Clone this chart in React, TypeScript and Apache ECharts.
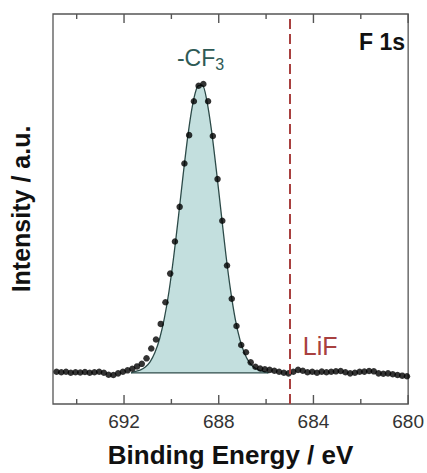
import React, { useEffect, useRef } from "react";
import * as echarts from "echarts";

// Measured XPS F 1s spectrum (binding energy in eV, intensity in a.u.)
const energies = [
  694.85, 694.65, 694.45, 694.25, 694.05, 693.85, 693.65, 693.45, 693.25, 693.05,
  692.85, 692.65, 692.45, 692.25, 692.05, 691.85, 691.65, 691.45, 691.25, 691.05,
  690.85, 690.65, 690.45, 690.25, 690.05, 689.85, 689.65, 689.45, 689.25, 689.05,
  688.85, 688.65, 688.45, 688.25, 688.05, 687.85, 687.65, 687.45, 687.25, 687.05,
  686.85, 686.65, 686.45, 686.25, 686.05, 685.85, 685.65, 685.45, 685.25, 685.05,
  684.85, 684.65, 684.45, 684.25, 684.05, 683.85, 683.65, 683.45, 683.25, 683.05,
  682.85, 682.65, 682.45, 682.25, 682.05, 681.85, 681.65, 681.45, 681.25, 681.05,
  680.85, 680.65, 680.45, 680.25, 680.05,
];
const intensities = [
  0.35, 0.2, 0.35, 0.0, 0.2, 0.1, 0.25, 0.0, 0.2, 0.35,
  0.0, -0.7, -0.75, -0.2, 0.35, 0.85, 1.4, 2.2, 3.1, 5.0,
  8.4, 11.5, 16.9, 24.4, 34.3, 45.4, 57.4, 72.4, 82.2, 93.9,
  99.3, 99.9, 93.9, 81.9, 67.0, 52.6, 37.1, 25.6, 16.2, 9.6,
  7.1, 3.6, 2.1, 1.5, 1.2, 1.0, 0.7, 0.35, 0.0, -0.2,
  0.35, 1.0, 0.7, 0.2, 0.35, 0.0, 0.4, 0.2, 0.35, 0.5,
  0.6, 0.2, -0.2, 0.0, 0.35, 0.4, 0.6, 0.5, -0.2, -0.35,
  -0.2, -0.5, -0.75, -1.0, -1.2,
];

// Fitted -CF3 component
const fitEnergies = [
  691.7, 691.5, 691.3, 691.1, 690.9, 690.7, 690.5, 690.3, 690.1, 689.9,
  689.7, 689.5, 689.3, 689.1, 688.9, 688.7, 688.5, 688.3, 688.1, 687.9,
  687.7, 687.5, 687.3, 687.1, 686.9, 686.7, 686.5, 686.3, 686.1, 685.9,
];
const fitIntensities = [
  0.0, 0.5, 1.0, 2.0, 3.8, 6.9, 11.7, 18.7, 28.2, 40.3,
  54.1, 68.7, 82.2, 92.8, 99.0, 99.5, 94.0, 83.5, 70.0, 55.5,
  41.0, 28.5, 18.5, 11.3, 6.5, 3.5, 1.8, 0.9, 0.4, 0.0,
];
const peakEnergy = 688.78;
const lifEnergy = 685;

const majorTicks = [680, 684, 688, 692];
const minorTicks = [682, 686, 690, 694];
const majorTickStep = 4;
const xMin = 680;
const xMax = 695;
const yMin = -10.8;
const yMax = 124.1;

const FONT = "'Liberation Sans', Arial, Helvetica, sans-serif";
const FRAME = "#555";

// One custom series per edge and tick size; each item draws a single filled rect.
function tickSeries(values: number[], edge: "bottom" | "top", len: number) {
  const yEdge = edge === "bottom" ? yMin : yMax;
  return {
    type: "custom",
    clip: false,
    data: values.map((v) => [v, yEdge]),
    renderItem: (_p: any, api: any) => {
      const c = api.coord([api.value(0), yEdge]);
      const y = edge === "bottom" ? c[1] - len : c[1];
      return {
        type: "rect",
        shape: { x: c[0] - 0.7, y, width: 1.4, height: len },
        style: { fill: FRAME },
      };
    },
  };
}

export default function App() {
  const ref = useRef<HTMLDivElement>(null);

  useEffect(() => {
    if (!ref.current) return;
    const chart = echarts.init(ref.current, null, { renderer: "svg" });

    const dataPts = energies.map((e, i) => [e, intensities[i]]);
    const fitPts = fitEnergies.map((e, i) => [e, fitIntensities[i]]);

    chart.setOption({
      animation: false,
      grid: {
        left: 51,
        right: 15,
        top: 14,
        bottom: 67,
        show: true,
        borderColor: FRAME,
        borderWidth: 1.3,
      },
      xAxis: {
        type: "value",
        min: xMin,
        max: xMax,
        interval: majorTickStep,
        inverse: true,
        axisLine: { show: false, onZero: false },
        splitLine: { show: false },
        axisTick: { show: false },
        axisLabel: {
          show: true,
          showMaxLabel: false,
          margin: 8,
          fontSize: 19,
          fontFamily: FONT,
          color: "#333",
          formatter: (v: number) => (majorTicks.includes(v) ? String(v) : ""),
        },
        name: "Binding Energy / eV",
        nameLocation: "middle",
        nameGap: 38,
        nameTextStyle: { fontSize: 26, fontWeight: "bold", fontFamily: FONT, color: "#111" },
      },
      yAxis: {
        type: "value",
        min: yMin,
        max: yMax,
        axisLine: { show: false },
        axisTick: { show: false },
        axisLabel: { show: false },
        splitLine: { show: false },
        name: "Intensity / a.u.",
        nameLocation: "middle",
        nameRotate: 90,
        nameGap: 20,
        nameTextStyle: { fontSize: 25, fontWeight: "bold", fontFamily: FONT, color: "#111" },
      },
      series: [
        {
          type: "line",
          name: "fit",
          data: fitPts,
          smooth: 0.3,
          showSymbol: false,
          lineStyle: { color: "#2c4a48", width: 1.3 },
          areaStyle: { color: "#c3dfde", opacity: 1 },
          z: 1,
        },
        {
          type: "line",
          name: "fit baseline",
          data: [
            [fitEnergies[0], 0],
            [fitEnergies[fitEnergies.length - 1], 0],
          ],
          showSymbol: false,
          lineStyle: { color: "#2c4a48", width: 1.3 },
          z: 2,
        },
        {
          type: "scatter",
          name: "data",
          data: dataPts,
          symbol: "circle",
          symbolSize: 6.5,
          itemStyle: { color: "#000" },
          z: 3,
          markLine: {
            silent: true,
            symbol: ["none", "none"],
            label: { show: false },
            lineStyle: { type: [10, 5], color: "#a8403f", width: 2 },
            data: [{ xAxis: lifEnergy }],
            z: 4,
          },
        },
        tickSeries(majorTicks, "bottom", 9),
        tickSeries(minorTicks, "bottom", 5),
        tickSeries(majorTicks, "top", 9),
        tickSeries(minorTicks, "top", 5),
      ],
    });

    const lx = chart.convertToPixel({ xAxisIndex: 0 }, lifEnergy) as number;
    const px = chart.convertToPixel({ xAxisIndex: 0 }, peakEnergy) as number;

    chart.setOption({
      graphic: [
        {
          type: "text",
          x: lx + 13,
          y: 346,
          style: {
            text: "LiF",
            font: `25px ${FONT}`,
            fill: "#a8403f",
            textAlign: "left",
            textVerticalAlign: "middle",
          },
        },
        {
          type: "text",
          x: px + 15,
          y: 58,
          style: {
            text: "-CF",
            font: `23px ${FONT}`,
            fill: "#2e5a55",
            textAlign: "right",
            textVerticalAlign: "middle",
          },
        },
        {
          type: "text",
          x: px + 15,
          y: 64,
          style: {
            text: "3",
            font: `16px ${FONT}`,
            fill: "#2e5a55",
            textAlign: "left",
            textVerticalAlign: "middle",
          },
        },
        {
          type: "text",
          x: 405,
          y: 42,
          style: {
            text: "F 1s",
            font: `bold 23px ${FONT}`,
            fill: "#111",
            textAlign: "right",
            textVerticalAlign: "middle",
          },
        },
      ],
    });

    return () => {
      chart.dispose();
    };
  }, []);

  return (
    <div
      ref={ref}
      style={{ position: "fixed", left: 0, top: 0, width: 427, height: 473, background: "#fff" }}
    />
  );
}
